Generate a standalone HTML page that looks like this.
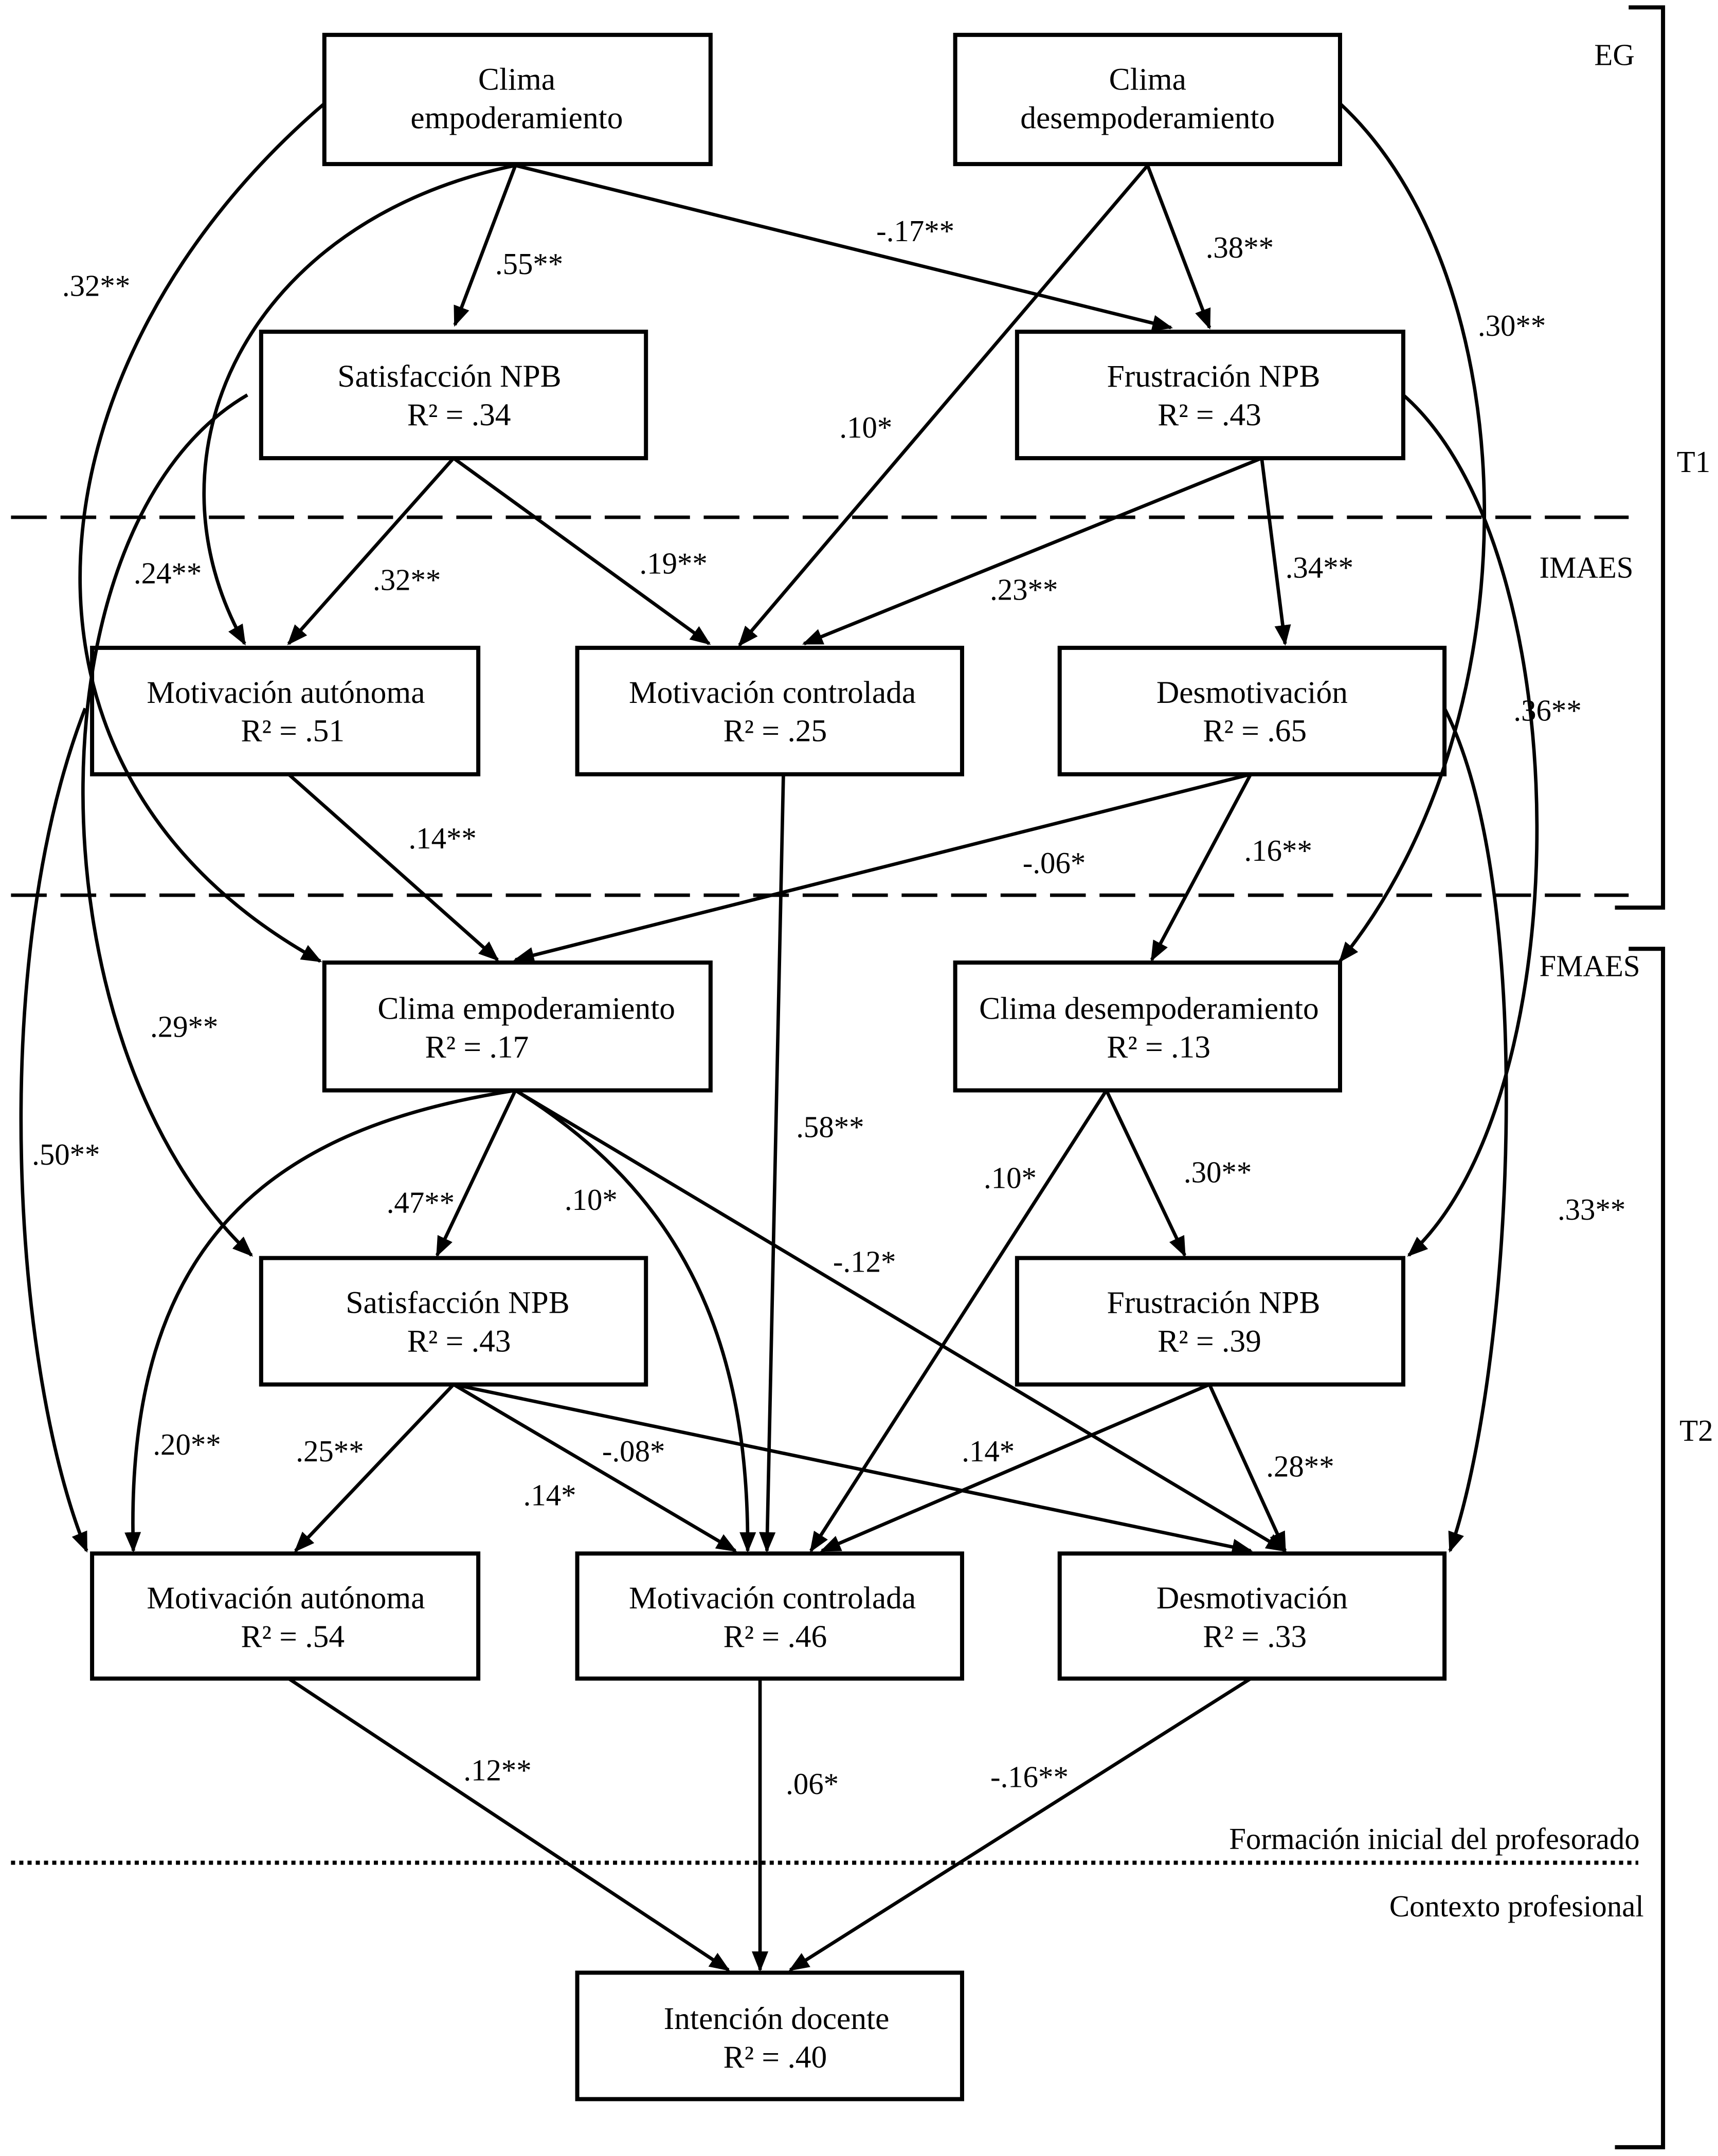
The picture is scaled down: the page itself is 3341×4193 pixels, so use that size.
<!DOCTYPE html>
<html><head><meta charset="utf-8"><style>html,body{margin:0;padding:0;background:#fff}svg{display:block}</style></head>
<body>
<svg xmlns="http://www.w3.org/2000/svg" width="3341" height="4193" viewBox="0 0 1250 1568">
<defs>
<marker id="a" viewBox="0 0 10 10" refX="9" refY="5" markerWidth="6" markerHeight="6" orient="auto" markerUnits="strokeWidth"><path d="M0,1 L10,5 L0,9 z" fill="#000"/></marker>
</defs>
<rect width="1250" height="1568" fill="#fff"/>
<g fill="none" stroke="#000" stroke-width="3">
<rect x="236" y="25" width="281" height="94"/>
<rect x="695" y="25" width="280" height="94"/>
<rect x="190" y="241" width="280" height="92"/>
<rect x="740" y="241" width="281" height="92"/>
<rect x="67" y="471" width="281" height="92"/>
<rect x="420" y="471" width="280" height="92"/>
<rect x="771" y="471" width="280" height="92"/>
<rect x="236" y="700" width="281" height="93"/>
<rect x="695" y="700" width="280" height="93"/>
<rect x="190" y="915" width="280" height="92"/>
<rect x="740" y="915" width="281" height="92"/>
<rect x="67" y="1130" width="281" height="91"/>
<rect x="420" y="1130" width="280" height="91"/>
<rect x="771" y="1130" width="280" height="91"/>
<rect x="420" y="1435" width="280" height="92"/>
</g>
<g stroke="#000" fill="none" stroke-width="2.5">
<line x1="8" y1="376" x2="1185" y2="376" stroke-dasharray="26,10"/>
<line x1="8" y1="651" x2="1185" y2="651" stroke-dasharray="26,10"/>
<line x1="8" y1="1355" x2="1192" y2="1355" stroke-dasharray="3,3" stroke-width="3"/>
<path d="M1185,5 H1210 V660 H1175" stroke-width="3"/>
<path d="M1185,690 H1210 V1562 H1175" stroke-width="3"/>
</g>
<g stroke="#000" fill="none" stroke-width="2.5" marker-end="url(#a)">
<line x1="375" y1="120" x2="331" y2="236"/>
<line x1="375" y1="120" x2="852" y2="238"/>
<line x1="835" y1="120" x2="880" y2="238"/>
<line x1="835" y1="120" x2="538" y2="469"/>
<path d="M375,120 C180,160 100,330 178,468"/>
<path d="M236,75 C20,260 -20,560 233,699"/>
<path d="M975,75 C1110,200 1120,520 975,699"/>
<line x1="330" y1="333" x2="210" y2="468"/>
<line x1="330" y1="333" x2="516" y2="468"/>
<line x1="918" y1="333" x2="585" y2="468"/>
<line x1="918" y1="333" x2="935" y2="468"/>
<path d="M180,287 C20,380 20,760 183,913"/>
<path d="M1021,287 C1150,400 1150,800 1025,913"/>
<line x1="210" y1="563" x2="362" y2="698"/>
<line x1="910" y1="563" x2="375" y2="698"/>
<line x1="910" y1="563" x2="838" y2="698"/>
<line x1="570" y1="563" x2="558" y2="1128"/>
<path d="M62,515 C-10,700 10,1000 63,1128"/>
<path d="M1051,515 C1120,650 1100,1000 1055,1128"/>
<line x1="375" y1="793" x2="318" y2="913"/>
<path d="M375,793 C500,870 545,980 544,1128"/>
<line x1="375" y1="793" x2="935" y2="1128"/>
<path d="M375,793 C200,820 90,900 97,1128"/>
<line x1="805" y1="793" x2="590" y2="1128"/>
<line x1="805" y1="793" x2="862" y2="913"/>
<line x1="330" y1="1007" x2="215" y2="1128"/>
<line x1="330" y1="1007" x2="535" y2="1128"/>
<line x1="330" y1="1007" x2="910" y2="1128"/>
<line x1="880" y1="1007" x2="598" y2="1128"/>
<line x1="880" y1="1007" x2="935" y2="1128"/>
<line x1="210" y1="1221" x2="530" y2="1433"/>
<line x1="553" y1="1221" x2="553" y2="1433"/>
<line x1="910" y1="1221" x2="575" y2="1433"/>
</g>
<g font-family="Liberation Serif, serif" font-size="23" text-anchor="middle" fill="#000">
<text x="376" y="65">Clima</text><text x="376" y="93">empoderamiento</text>
<text x="835" y="65">Clima</text><text x="835" y="93">desempoderamiento</text>
<text x="327" y="281">Satisfacción NPB</text><text x="334" y="309">R² = .34</text>
<text x="883" y="281">Frustración NPB</text><text x="880" y="309">R² = .43</text>
<text x="208" y="511">Motivación autónoma</text><text x="213" y="539">R² = .51</text>
<text x="562" y="511">Motivación controlada</text><text x="564" y="539">R² = .25</text>
<text x="911" y="511">Desmotivación</text><text x="913" y="539">R² = .65</text>
<text x="383" y="741">Clima empoderamiento</text><text x="347" y="769">R² = .17</text>
<text x="836" y="741">Clima desempoderamiento</text><text x="843" y="769">R² = .13</text>
<text x="333" y="955">Satisfacción NPB</text><text x="334" y="983">R² = .43</text>
<text x="883" y="955">Frustración NPB</text><text x="880" y="983">R² = .39</text>
<text x="208" y="1170">Motivación autónoma</text><text x="213" y="1198">R² = .54</text>
<text x="562" y="1170">Motivación controlada</text><text x="564" y="1198">R² = .46</text>
<text x="911" y="1170">Desmotivación</text><text x="913" y="1198">R² = .33</text>
<text x="565" y="1476">Intención docente</text><text x="564" y="1504">R² = .40</text>
</g>
<g font-family="Liberation Serif, serif" font-size="22" text-anchor="middle" fill="#000">
<text x="70" y="215">.32**</text>
<text x="385" y="199">.55**</text>
<text x="666" y="175">-.17**</text>
<text x="902" y="187">.38**</text>
<text x="1100" y="244">.30**</text>
<text x="630" y="318">.10*</text>
<text x="122" y="424">.24**</text>
<text x="296" y="429">.32**</text>
<text x="490" y="417">.19**</text>
<text x="745" y="436">.23**</text>
<text x="960" y="420">.34**</text>
<text x="1126" y="524">.36**</text>
<text x="322" y="617">.14**</text>
<text x="767" y="635">-.06*</text>
<text x="930" y="626">.16**</text>
<text x="134" y="754">.29**</text>
<text x="604" y="827">.58**</text>
<text x="48" y="847">.50**</text>
<text x="1158" y="887">.33**</text>
<text x="306" y="882">.47**</text>
<text x="430" y="880">.10*</text>
<text x="629" y="925">-.12*</text>
<text x="735" y="864">.10*</text>
<text x="886" y="860">.30**</text>
<text x="136" y="1058">.20**</text>
<text x="240" y="1063">.25**</text>
<text x="461" y="1063">-.08*</text>
<text x="400" y="1095">.14*</text>
<text x="719" y="1063">.14*</text>
<text x="946" y="1074">.28**</text>
<text x="362" y="1295">.12**</text>
<text x="591" y="1305">.06*</text>
<text x="749" y="1300">-.16**</text>
</g>
<g font-family="Liberation Serif, serif" font-size="22" fill="#000">
<text x="1160" y="47">EG</text>
<text x="1220" y="343">T1</text>
<text x="1120" y="420">IMAES</text>
<text x="1120" y="710">FMAES</text>
<text x="1222" y="1048">T2</text>
<text x="1193" y="1345" text-anchor="end">Formación inicial del profesorado</text>
<text x="1196" y="1394" text-anchor="end">Contexto profesional</text>
</g>
</svg>
</body></html>
